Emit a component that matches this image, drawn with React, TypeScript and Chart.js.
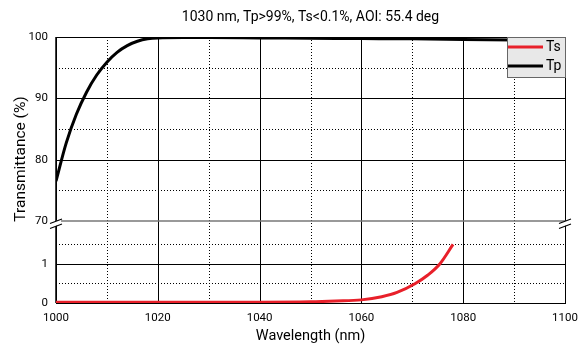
import React, { useEffect, useRef } from "react";
import { Chart, registerables } from "chart.js";

Chart.register(...registerables);

const TITLE = "1030 nm, Tp>99%, Ts<0.1%, AOI: 55.4 deg";
const X_TITLE = "Wavelength (nm)";
const Y_TITLE = "Transmittance (%)";

const TP_WAVELENGTH = [1000, 1002, 1004, 1006, 1008, 1010, 1012, 1014, 1016, 1018, 1020, 1025, 1030, 1040, 1050, 1060, 1070, 1080, 1090, 1100];
const TP_VALUES = [76.5, 82.7, 87.4, 91.0, 93.8, 95.9, 97.5, 98.6, 99.3, 99.7, 99.85, 99.9, 99.9, 99.85, 99.8, 99.75, 99.7, 99.6, 99.5, 99.4];

const TS_WAVELENGTH = [1000, 1020, 1040, 1050, 1055, 1060, 1064, 1067, 1070.6, 1073, 1075.4, 1078];
const TS_VALUES = [0.02, 0.02, 0.02, 0.03, 0.05, 0.08, 0.16, 0.27, 0.5, 0.71, 1.0, 1.5];

const X_TICKS = [1000, 1020, 1040, 1060, 1080, 1100];
const X_MINOR = [1010, 1030, 1050, 1070, 1090];
const Y_TOP_TICKS = [70, 80, 90, 100];
const Y_TOP_MINOR = [75, 85, 95];
const Y_BOTTOM_TICKS = [0, 1];
const Y_BOTTOM_MINOR = [0.5, 1.5];

const SERIES_NAMES = ["Ts", "Tp"];
const SERIES_COLORS = ["#e8202a", "#000000"];

const FONT = "Roboto, 'DejaVu Sans', sans-serif";

const px = (v: number) => Math.round(v) + 0.5;

const customPlugin = {
  id: "customDecor",
  beforeDatasetsDraw(chart: any) {
    const { ctx, chartArea } = chart;
    const { left, right, top, bottom } = chartArea;
    const xs = chart.scales.x;
    const yt = chart.scales.yTop;
    const yb = chart.scales.yBot;
    ctx.save();
    ctx.lineWidth = 1;
    ctx.strokeStyle = "#000";
    ctx.setLineDash([1, 2]);
    X_MINOR.forEach((v) => {
      const x = px(xs.getPixelForValue(v));
      ctx.beginPath();
      ctx.moveTo(x, top);
      ctx.lineTo(x, bottom);
      ctx.stroke();
    });
    const hline = (y: number) => {
      ctx.beginPath();
      ctx.moveTo(left, px(y));
      ctx.lineTo(right, px(y));
      ctx.stroke();
    };
    Y_TOP_MINOR.forEach((v) => hline(yt.getPixelForValue(v)));
    Y_BOTTOM_MINOR.forEach((v) => hline(yb.getPixelForValue(v)));
    ctx.setLineDash([]);
    X_TICKS.forEach((v) => {
      const x = px(xs.getPixelForValue(v));
      ctx.beginPath();
      ctx.moveTo(x, top);
      ctx.lineTo(x, bottom);
      ctx.stroke();
    });
    Y_TOP_TICKS.filter((v) => v !== 70).forEach((v) => hline(yt.getPixelForValue(v)));
    Y_BOTTOM_TICKS.forEach((v) => hline(yb.getPixelForValue(v)));
    ctx.strokeStyle = "#777";
    ctx.lineWidth = 1.5;
    const yBreak = yt.getPixelForValue(70);
    ctx.beginPath();
    ctx.moveTo(left, yBreak);
    ctx.lineTo(right, yBreak);
    ctx.stroke();
    ctx.strokeStyle = "#000";
    ctx.lineWidth = 1;
    ctx.strokeRect(px(left), px(top), Math.round(right - left), Math.round(bottom - top));
    ctx.lineWidth = 1.5;
    ctx.beginPath();
    ctx.moveTo(left, top);
    ctx.lineTo(left, bottom);
    ctx.stroke();
    ctx.restore();
  },
  afterDatasetsDraw(chart: any) {
    const { ctx, chartArea } = chart;
    const { left, right, top } = chartArea;
    const yt = chart.scales.yTop;
    const yBreak = yt.getPixelForValue(70);
    ctx.save();
    [left, right].forEach((x) => {
      ctx.fillStyle = "#fff";
      ctx.beginPath();
      ctx.moveTo(x - 5, yBreak + 2);
      ctx.lineTo(x + 5, yBreak - 2);
      ctx.lineTo(x + 5, yBreak + 3);
      ctx.lineTo(x - 5, yBreak + 7);
      ctx.closePath();
      ctx.fill();
      ctx.strokeStyle = "#000";
      ctx.lineWidth = 1.2;
      ctx.beginPath();
      ctx.moveTo(x - 6, yBreak + 2.5);
      ctx.lineTo(x + 6, yBreak - 2);
      ctx.moveTo(x - 6, yBreak + 7.5);
      ctx.lineTo(x + 6, yBreak + 3);
      ctx.stroke();
    });
    const lw = 58;
    const lh = 40;
    const lx = right - lw;
    const ly = top;
    ctx.fillStyle = "#e8e8e8";
    ctx.fillRect(lx, ly, lw, lh);
    ctx.strokeStyle = "#666";
    ctx.lineWidth = 1;
    ctx.strokeRect(px(lx), px(ly), lw, lh);
    ctx.font = `14px ${FONT}`;
    ctx.textBaseline = "middle";
    ctx.textAlign = "left";
    SERIES_NAMES.forEach((name, i) => {
      const y = ly + 10 + i * 19;
      ctx.strokeStyle = SERIES_COLORS[i];
      ctx.lineWidth = 3;
      ctx.beginPath();
      ctx.moveTo(lx + 1, y);
      ctx.lineTo(lx + 36, y);
      ctx.stroke();
      ctx.fillStyle = "#000";
      ctx.fillText(name, lx + 39, y);
    });
    ctx.restore();
  },
  afterDraw(chart: any) {
    const { ctx, chartArea } = chart;
    const { left, right } = chartArea;
    ctx.save();
    ctx.fillStyle = "#000";
    ctx.font = `14px ${FONT}`;
    ctx.textAlign = "center";
    ctx.textBaseline = "middle";
    ctx.fillText(TITLE, (left + right) / 2, 17);
    ctx.font = `15.5px ${FONT}`;
    ctx.translate(21, 159);
    ctx.rotate(-Math.PI / 2);
    ctx.fillText(Y_TITLE, 0, 0);
    ctx.restore();
  },
};

export default function App() {
  const ref = useRef<HTMLCanvasElement | null>(null);
  useEffect(() => {
    if (!ref.current) return;
    const tickFont = { family: FONT, size: 11.5 };
    const plain = (v: any) => String(v);
    const chart = new Chart(ref.current, {
      type: "line",
      data: {
        datasets: [
          {
            label: SERIES_NAMES[0],
            data: TS_WAVELENGTH.map((x, i) => ({ x, y: TS_VALUES[i] })),
            borderColor: SERIES_COLORS[0],
            borderWidth: 3,
            pointRadius: 0,
            cubicInterpolationMode: "monotone",
            yAxisID: "yBot",
          },
          {
            label: SERIES_NAMES[1],
            data: TP_WAVELENGTH.map((x, i) => ({ x, y: TP_VALUES[i] })),
            borderColor: SERIES_COLORS[1],
            borderWidth: 3,
            pointRadius: 0,
            cubicInterpolationMode: "monotone",
            yAxisID: "yTop",
          },
        ],
      },
      options: {
        animation: false,
        responsive: true,
        maintainAspectRatio: false,
        layout: { padding: { top: 37, right: 17, left: 0, bottom: 0 } },
        plugins: { legend: { display: false }, tooltip: { enabled: false }, title: { display: false } },
        scales: {
          x: {
            type: "linear",
            min: 1000,
            max: 1100,
            afterBuildTicks: (s: any) => {
              s.ticks = X_TICKS.map((value) => ({ value }));
            },
            afterFit: (s: any) => {
              s.height = 44;
              s.paddingLeft = 0;
              s.paddingRight = 0;
            },
            ticks: { font: tickFont, color: "#000", padding: 8, callback: plain },
            grid: { display: false, drawTicks: false },
            border: { display: false },
            title: { display: true, text: X_TITLE, color: "#000", font: { family: FONT, size: 14.5 }, padding: { top: 2, bottom: 2 } },
          },
          yBot: {
            type: "linear",
            position: "left",
            stack: "y",
            stackWeight: 82,
            weight: 0,
            min: 0,
            max: 2.1,
            afterBuildTicks: (s: any) => {
              s.ticks = Y_BOTTOM_TICKS.map((value) => ({ value }));
            },
            afterFit: (s: any) => {
              s.width = 56;
            },
            ticks: { font: tickFont, color: "#000", padding: 8, callback: plain },
            grid: { display: false, drawTicks: false },
            border: { display: false },
          },
          yTop: {
            type: "linear",
            position: "left",
            stack: "y",
            stackWeight: 184,
            weight: 1,
            min: 70,
            max: 100,
            afterBuildTicks: (s: any) => {
              s.ticks = Y_TOP_TICKS.map((value) => ({ value }));
            },
            afterFit: (s: any) => {
              s.width = 56;
            },
            ticks: { font: tickFont, color: "#000", padding: 8, callback: plain },
            grid: { display: false, drawTicks: false },
            border: { display: false },
          },
        },
      },
      plugins: [customPlugin],
    } as any);
    return () => chart.destroy();
  }, []);
  return (
    <div style={{ position: "absolute", left: 0, top: 0, width: 582, height: 347 }}>
      <canvas ref={ref} />
    </div>
  );
}
